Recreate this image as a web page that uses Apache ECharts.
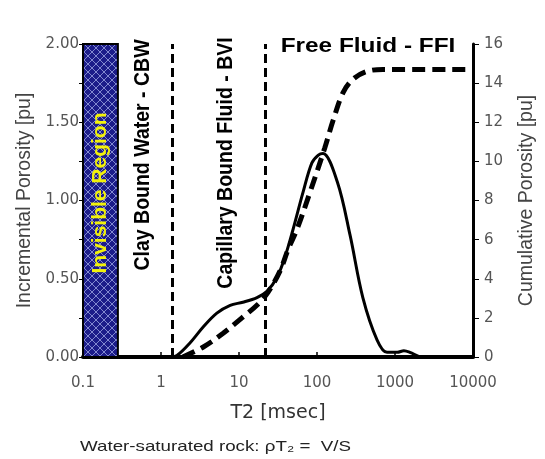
<!DOCTYPE html>
<html><head><meta charset="utf-8">
<script src="https://cdn.jsdelivr.net/npm/echarts@6/dist/echarts.min.js"></script>
<style>html,body{margin:0;padding:0;background:#fff}#c{width:545px;height:459px}</style>
</head><body><div id="c"></div>
<script>
// ---- data ----
const t2Incremental = [0.28, 1.3, 1.6, 2.35, 3.45, 5.2, 7.7, 11.2, 17, 22.8, 30.8, 38.9, 49, 66, 86, 104, 119, 182, 265, 387, 588, 790, 1070, 1300, 1550, 2090];
const incrementalPorosity = [0, 0, 0.01, 0.09, 0.19, 0.28, 0.33, 0.35, 0.38, 0.42, 0.51, 0.64, 0.81, 1.05, 1.24, 1.29, 1.30, 1.12, 0.78, 0.38, 0.11, 0.03, 0.03, 0.04, 0.03, 0];
const t2Cumulative = [1.9, 3.45, 6.2, 10.9, 17.5, 23.5, 33.6, 42.6, 55, 81, 126, 161, 215, 290, 437, 700, 10000];
const cumulativePorosity = [0, 0.5, 1.2, 2.0, 2.7, 3.3, 4.4, 5.5, 6.5, 8.4, 10.7, 12.1, 13.5, 14.2, 14.6, 14.7, 14.7];
const invisibleRegion = [0.1, 0.28];
const cutoffs = [1.38, 21.5];
const xTicks = [0.1, 1, 10, 100, 1000, 10000];
const leftTicks = [0, 0.5, 1, 1.5, 2];
const rightTicks = [0, 2, 4, 6, 8, 10, 12, 14, 16];

// hatch pattern for invisible region
const pc = document.createElement('canvas');
pc.width = 8; pc.height = 8;
const g = pc.getContext('2d');
g.fillStyle = '#1c1c8a'; g.fillRect(0, 0, 8, 8);
g.strokeStyle = 'rgba(200,210,255,0.75)'; g.lineWidth = 0.8;
g.beginPath(); g.moveTo(0, 0); g.lineTo(8, 8); g.moveTo(8, 0); g.lineTo(0, 8); g.stroke();

const tickFont = 'DejaVu Sans';
const chart = echarts.init(document.getElementById('c'), null, {renderer: 'canvas'});
chart.setOption({
  animation: false,
  backgroundColor: '#fff',
  grid: {left: 83, right: 72, top: 44, bottom: 102, outerBoundsMode: 'none'},
  xAxis: {
    type: 'log', logBase: 10, min: xTicks[0], max: xTicks[xTicks.length - 1],
    name: 'T2 [msec]', nameLocation: 'middle', nameGap: 47,
    nameTextStyle: {fontFamily: tickFont, fontSize: 19, color: '#333'},
    axisLine: {lineStyle: {color: '#000', width: 4}},
    axisTick: {inside: true, length: 5, lineStyle: {color: '#000', width: 1.5}},
    axisLabel: {margin: 19, fontFamily: tickFont, fontSize: 15, color: '#555',
      formatter: v => String(Number(v.toPrecision(6)))},
    splitLine: {show: false}, minorTick: {show: false}
  },
  yAxis: [{
    type: 'value', min: leftTicks[0], max: leftTicks[leftTicks.length - 1], interval: 0.25,
    name: 'Incremental Porosity [pu]', nameLocation: 'middle', nameGap: 45, nameRotate: 90,
    nameTextStyle: {fontFamily: 'Liberation Sans', fontSize: 19.5, color: '#444'},
    axisLine: {show: true, lineStyle: {color: '#000', width: 2}},
    axisTick: {show: true, length: 4, lineStyle: {color: '#000'}},
    axisLabel: {margin: 4, fontFamily: tickFont, fontSize: 15, color: '#555',
      formatter: v => (Math.abs(v * 2 - Math.round(v * 2)) < 1e-6 ? v.toFixed(2) : '')},
    splitLine: {show: false}
  }, {
    type: 'value', position: 'right', min: rightTicks[0], max: rightTicks[rightTicks.length - 1], interval: 2,
    name: 'Cumulative Porosity [pu]', nameLocation: 'middle', nameGap: 44, nameRotate: 90,
    nameTextStyle: {fontFamily: 'Liberation Sans', fontSize: 19.5, color: '#444'},
    axisLine: {show: true, lineStyle: {color: '#000', width: 3}},
    axisTick: {show: true, length: 6, lineStyle: {color: '#000'}},
    axisLabel: {margin: 11, fontFamily: tickFont, fontSize: 15, color: '#555'},
    splitLine: {show: false}
  }],
  series: [{
    type: 'line', yAxisIndex: 0, smooth: 0.35, symbol: 'none', z: 3,
    data: t2Incremental.map((x, i) => [x, incrementalPorosity[i]]),
    lineStyle: {color: '#000', width: 3},
    markArea: {
      silent: true,
      itemStyle: {color: {image: pc, repeat: 'repeat'}, borderColor: '#000', borderWidth: 2, opacity: 1},
      data: [[{xAxis: invisibleRegion[0], yAxis: leftTicks[0]}, {xAxis: invisibleRegion[1], yAxis: leftTicks[leftTicks.length - 1]}]]
    },
    markLine: {
      silent: true, symbol: 'none', label: {show: false},
      lineStyle: {color: '#000', width: 3, type: [9, 5]},
      data: cutoffs.map(v => ({xAxis: v}))
    }
  }, {
    type: 'line', yAxisIndex: 1, smooth: 0.35, symbol: 'none', z: 4,
    data: t2Cumulative.map((x, i) => [x, cumulativePorosity[i]]),
    lineStyle: {color: '#000', width: 5, type: [13, 7]}
  }],
  graphic: [
    {type: 'text', x: 100, y: 193, rotation: Math.PI / 2, z: 100,
      style: {text: 'Invisible Region', font: 'bold 21px "Liberation Sans"', fill: '#f2f20a', align: 'center', verticalAlign: 'middle'}},
    {type: 'text', x: 143, y: 155, rotation: Math.PI / 2, scaleY: 1.15, z: 100,
      style: {text: 'Clay Bound Water - CBW', font: 'bold 19.5px "Liberation Sans"', fill: '#000', align: 'center', verticalAlign: 'middle'}},
    {type: 'text', x: 226, y: 163, rotation: Math.PI / 2, scaleY: 1.15, z: 100,
      style: {text: 'Capillary Bound Fluid - BVI', font: 'bold 19.5px "Liberation Sans"', fill: '#000', align: 'center', verticalAlign: 'middle'}},
    {type: 'text', x: 368, y: 47, scaleX: 1.25, z: 100,
      style: {text: 'Free Fluid - FFI', font: 'bold 19.5px "Liberation Sans"', fill: '#000', align: 'center', verticalAlign: 'middle'}},
    {type: 'text', x: 80, y: 447, scaleX: 1.25, z: 100,
      style: {text: 'Water-saturated rock: ρT₂ =  V/S', font: '15px "Liberation Sans"', fill: '#222', align: 'left', verticalAlign: 'middle'}}
  ]
});
</script></body></html>
